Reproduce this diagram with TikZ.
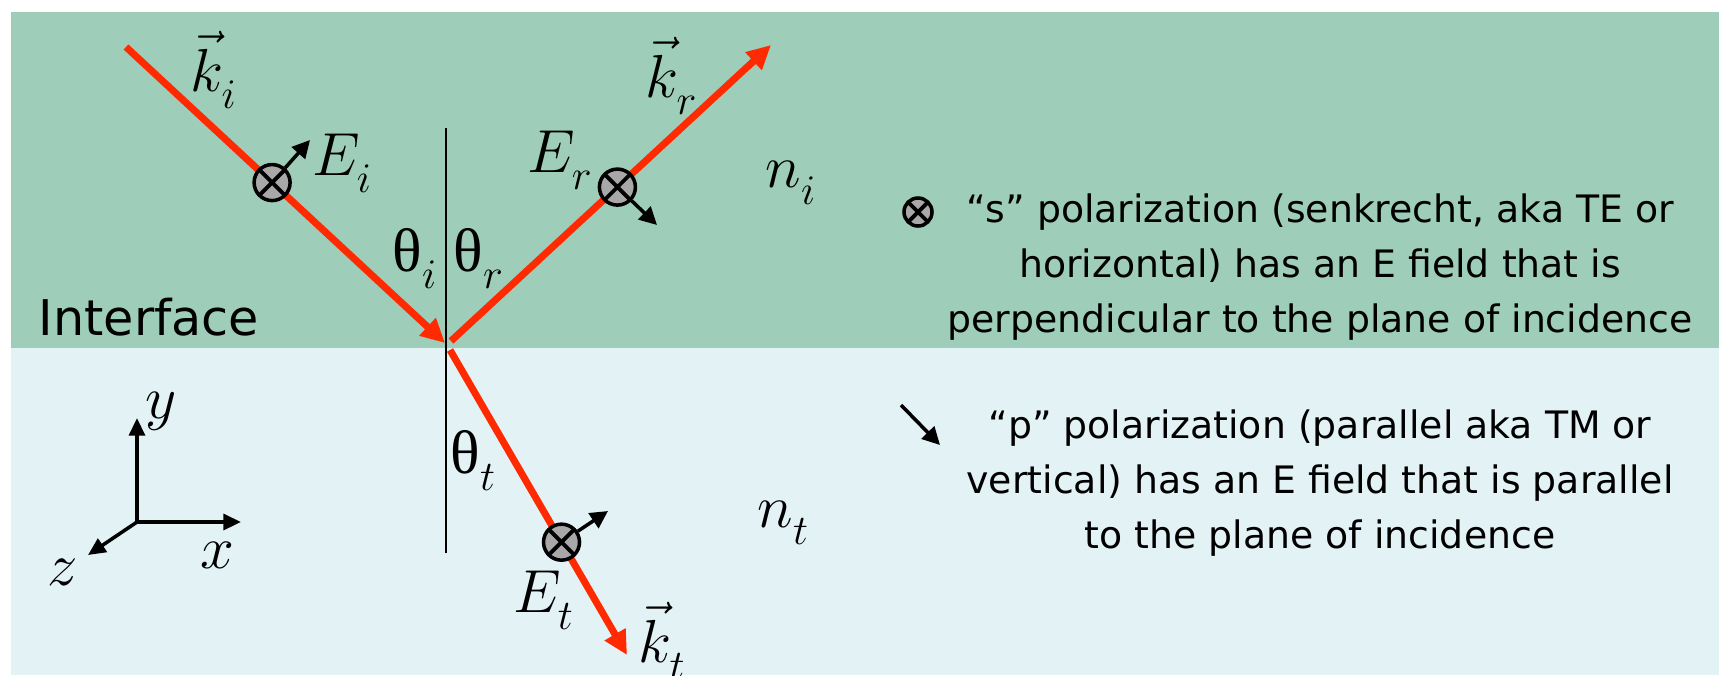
\documentclass[tikz,border=0pt]{standalone}
\usepackage{amsmath}
\usepackage{fontspec}
\setmainfont{DejaVu Sans}
\newfontfamily\tms{Liberation Serif}
\usetikzlibrary{arrows.meta,positioning,calc}
\definecolor{upper}{HTML}{9ECDB9}
\definecolor{lower}{HTML}{E3F2F5}
\definecolor{beamred}{HTML}{FF2A00}
\definecolor{dot}{HTML}{A8A8A8}
\newcommand{\thup}{\text{\tms θ}}
\newcommand{\lowsub}[1]{_{\raisebox{-2.5pt}{$\scriptstyle #1$}}}

\begin{document}
\begin{tikzpicture}[x=0.01cm,y=-0.01cm,
   lab/.style={inner sep=0pt,anchor=base west,font=\fontsize{17.5}{20}\selectfont},
   txt/.style={align=center,font=\fontsize{10.75}{15.6}\selectfont},
   beam/.style={line width=2pt,beamred,-{Triangle[length=6.8pt,width=6.5pt]}},
   efield/.style={line width=1pt,-{Triangle[length=5pt,width=5pt]}},
   axarr/.style={line width=1pt,-{Triangle[length=5pt,width=4.5pt]}},
   pol/.style={circle,draw,line width=1pt,fill=dot,minimum size=0.36cm,inner sep=0pt,
     path picture={\draw[line width=1.1pt]
       (path picture bounding box.north west) -- (path picture bounding box.south east)
       (path picture bounding box.north east) -- (path picture bounding box.south west);}}]
  \useasboundingbox (0,0) rectangle (1719,675);
  \fill[upper] (11,12) rectangle (1719,348);
  \fill[lower] (11,348) rectangle (1719,675);

  % normal to the interface
  \coordinate (ntop) at (446,128);
  \coordinate (nbot) at (446,553);
  \draw[line width=0.6pt] (ntop) -- (nbot);

  % rays
  \coordinate (istart) at (126,47);
  \coordinate (itip) at (445,343);
  \coordinate (rfoot) at (451,341);
  \coordinate (rtip) at (771,45);
  \coordinate (tfoot) at (450,350);
  \coordinate (ttip) at (627,655);
  \draw[beam] (istart) -- (itip);
  \draw[beam] (rfoot) -- (rtip);
  \draw[beam] (tfoot) -- (ttip);

  % field markers
  \path (istart) -- (itip) node[pol,pos=0.458] (ei) {};
  \path (rfoot) -- (rtip) node[pol,pos=0.52] (er) {};
  \path (tfoot) -- (ttip) node[pol,pos=0.63] (et) {};
  \coordinate (eitip) at (310,140);
  \coordinate (ertip) at (657,225);
  \coordinate (ettip) at (608,511);
  \draw[efield] (ei) -- (eitip);
  \draw[efield] (er) -- (ertip);
  \draw[efield] (et) -- (ettip);

  \node[lab] (ki) at (190,91) {$\vec{k}\lowsub{i}$};
  \node[lab] (kr) at (645,97) {$\vec{k}\lowsub{r}$};
  \node[lab] (kt) at (638,662) {$\vec{k}\lowsub{t}$};
  \node[lab] (eil) at (312,175) {$E\lowsub{i}$};
  \node[lab] (erl) at (527,172) {$E\lowsub{r}$};
  \node[lab] (etl) at (513,612) {$E\lowsub{t}$};
  \node[lab] (ni) at (765,187) {$n\lowsub{i}$};
  \node[lab] (nt) at (757,527) {$n\lowsub{t}$};
  \node[lab] (thi) at (392,271) {$\thup\lowsub{i}$};
  \node[lab] (thr) at (453,271) {$\thup\lowsub{r}$};
  \node[lab] (tht) at (450,473) {$\thup\lowsub{t}$};

  \node[inner sep=0pt,anchor=base west,font=\fontsize{14}{16}\selectfont] (iface) at (38,335) {Interface};

  % axes
  \coordinate (o) at (137,522);
  \coordinate (ytip) at (137,418);
  \coordinate (xtip) at (241,522);
  \coordinate (ztip) at (88,555);
  \draw[axarr] (o) -- (ytip);
  \draw[axarr] (o) -- (xtip);
  \draw[axarr] (o) -- (ztip);
  \node[lab] (yl) at (145,418) {$y$};
  \node[lab] (xl) at (200,568) {$x$};
  \node[lab] (zl) at (47,585) {$z$};

  % legend
  \node[pol,minimum size=0.28cm] (sdot) at (918,212) {};
  \node[txt] (stxt) at (1320,267) {“s” polarization (senkrecht, aka TE or\\horizontal) has an E field that is\\perpendicular to the plane of incidence};
  \coordinate (pa) at (901,405);
  \coordinate (pb) at (940,445);
  \draw[efield] (pa) -- (pb);
  \node[txt] (ptxt) at (1320,483) {“p” polarization (parallel aka TM or\\vertical) has an E field that is parallel\\to the plane of incidence};
\end{tikzpicture}
\end{document}
